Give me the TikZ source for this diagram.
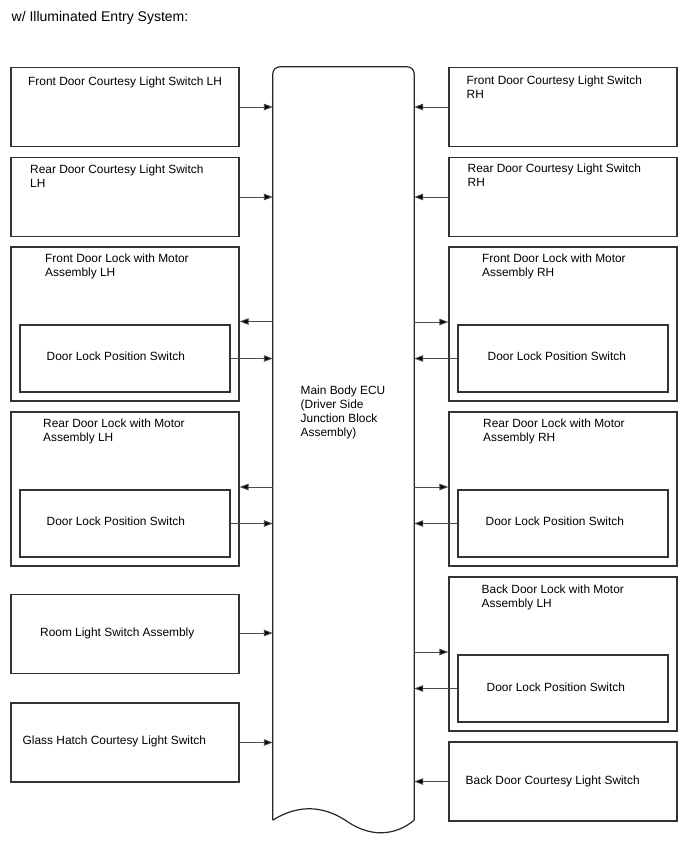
\documentclass[tikz,border=0pt]{standalone}
\usepackage{fontspec}
\setmainfont{Liberation Sans}
\usetikzlibrary{arrows.meta,positioning}

\begin{document}
\begin{tikzpicture}[x=1pt,y=-1pt,>={Triangle[length=9pt,width=6.5pt,fill=black]},
  box/.style={draw=black!80,line width=1.2pt,minimum width=228pt,minimum height=79pt,inner sep=0pt},
  inbox/.style={box,minimum width=210pt,minimum height=67pt},
  tallbox/.style={box,minimum height=154pt},
  lbl/.style={anchor=base west,inner sep=0pt,align=left,font=\fontsize{11.9}{14}\selectfont},
  arr/.style={->,draw=black!70,line width=0.9pt}]
\useasboundingbox (0,0) rectangle (688,852);
\node[lbl,font=\fontsize{14}{16}\selectfont] (title) at (11.5,21.7) {w/ Illuminated Entry System:};
% Main Body ECU
\node[minimum width=141pt,minimum height=753pt,inner sep=0pt] (ecu) at (343.5,443.5) {};
\draw[black!85,line width=1.2pt,rounded corners=7pt] (ecu.south west) -- (ecu.north west) -- (ecu.north east) -- (ecu.south east);
\draw[black!85,line width=1.2pt] (ecu.south east) .. controls (395,836) and (370,838) .. (345,820) .. controls (320,804) and (295,806) .. (ecu.south west);
\node[lbl] (ecut) at (300.5,436.5) {Main Body ECU\\(Driver Side\\Junction Block\\Assembly)};
% left side
\node[box] (l1) at (125,107) {};
\node[lbl] (l1t) at (28,85) {Front Door Courtesy Light Switch LH};
\node[box] (l2) at (125,197) {};
\node[lbl] (l2t) at (30,187.5) {Rear Door Courtesy Light Switch\\LH};
\node[tallbox] (l3) at (125,324) {};
\node[lbl] (l3t) at (45,276) {Front Door Lock with Motor\\Assembly LH};
\node[inbox] (l3s) at (125,358.5) {};
\node[lbl] (l3st) at (46.5,360) {Door Lock Position Switch};
\node[tallbox] (l4) at (125,489) {};
\node[lbl] (l4t) at (43,441) {Rear Door Lock with Motor\\Assembly LH};
\node[inbox] (l4s) at (125,523.5) {};
\node[lbl] (l4st) at (46.5,525) {Door Lock Position Switch};
\node[box] (l5) at (125,634) {};
\node[lbl] (l5t) at (40,636) {Room Light Switch Assembly};
\node[box] (l6) at (125,742.5) {};
\node[lbl] (l6t) at (22.5,744) {Glass Hatch Courtesy Light Switch};
% right side
\node[box] (r1) at (563,107) {};
\node[lbl] (r1t) at (466.5,98) {Front Door Courtesy Light Switch\\RH};
\node[box] (r2) at (563,197) {};
\node[lbl] (r2t) at (467.5,186.5) {Rear Door Courtesy Light Switch\\RH};
\node[tallbox] (r3) at (563,324) {};
\node[lbl] (r3t) at (482,276) {Front Door Lock with Motor\\Assembly RH};
\node[inbox] (r3s) at (563,358.5) {};
\node[lbl] (r3st) at (487.5,360) {Door Lock Position Switch};
\node[tallbox] (r4) at (563,489) {};
\node[lbl] (r4t) at (483,441) {Rear Door Lock with Motor\\Assembly RH};
\node[inbox] (r4s) at (563,523.5) {};
\node[lbl] (r4st) at (485.5,525) {Door Lock Position Switch};
\node[tallbox] (r5) at (563,654) {};
\node[lbl] (r5t) at (481.5,607) {Back Door Lock with Motor\\Assembly LH};
\node[inbox] (r5s) at (563,688.5) {};
\node[lbl] (r5st) at (486.5,691) {Door Lock Position Switch};
\node[box] (r6) at (563,781.5) {};
\node[lbl] (r6t) at (465.5,784) {Back Door Courtesy Light Switch};
% connectors
\draw[arr] (l1.east) -- (l1.east -| ecu.west);
\draw[arr] (l2.east) -- (l2.east -| ecu.west);
\draw[arr] (ecu.west |- 0,321.5) -- (l3.east |- 0,321.5);
\draw[arr] (l3s.east) -- (l3s.east -| ecu.west);
\draw[arr] (ecu.west |- 0,487) -- (l4.east |- 0,487);
\draw[arr] (l4s.east) -- (l4s.east -| ecu.west);
\draw[arr] (l5.east |- 0,633) -- (ecu.west |- 0,633);
\draw[arr] (l6.east) -- (l6.east -| ecu.west);
\draw[arr] (r1.west) -- (r1.west -| ecu.east);
\draw[arr] (r2.west) -- (r2.west -| ecu.east);
\draw[arr] (ecu.east |- 0,322) -- (r3.west |- 0,322);
\draw[arr] (r3s.west) -- (r3s.west -| ecu.east);
\draw[arr] (ecu.east |- 0,487) -- (r4.west |- 0,487);
\draw[arr] (r4s.west) -- (r4s.west -| ecu.east);
\draw[arr] (ecu.east |- 0,652) -- (r5.west |- 0,652);
\draw[arr] (r5s.west) -- (r5s.west -| ecu.east);
\draw[arr] (r6.west) -- (r6.west -| ecu.east);
\end{tikzpicture}
\end{document}
